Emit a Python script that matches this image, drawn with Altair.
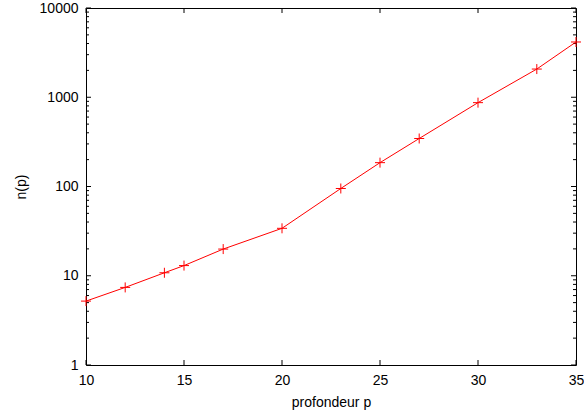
import altair as alt
import pandas as pd

# data
p_vals = [10, 12, 14, 15, 17, 20, 23, 25, 27, 30, 33, 35]
n_vals = [5.2, 7.4, 10.8, 13.0, 19.9, 34, 95, 185, 345, 870, 2070, 4160]

x_ticks = [10, 15, 20, 25, 30, 35]
y_major = [1, 10, 100, 1000, 10000]
y_minor = [m * d for d in [1, 10, 100, 1000] for m in range(2, 10)]

W, H = 490, 357
FONT = "Liberation Sans"

df = pd.DataFrame({"p": p_vals, "n": n_vals})
xt = pd.DataFrame({"p": x_ticks})
ymaj = pd.DataFrame({"n": y_major})
ymin = pd.DataFrame({"n": y_minor})

xscale = alt.Scale(domain=[10, 35], nice=False, zero=False)
yscale = alt.Scale(type="log", domain=[1, 10000], nice=False)

xaxis = alt.Axis(values=x_ticks, title="profondeur p", ticks=False, domain=False, grid=False,
                 labelPadding=8, labelFontSize=14, labelFont=FONT, labelColor="black",
                 labelFlush=False, labelOverlap=False, labelBound=False,
                 titleFont=FONT, titleFontSize=14, titleFontWeight="normal", titleColor="black",
                 titleY=41, titleBaseline="alphabetic")
yaxis = alt.Axis(values=y_major, format="d", title="n(p)", ticks=False, domain=False, grid=False,
                 labelPadding=8, labelFontSize=14, labelFont=FONT, labelColor="black",
                 labelFlush=False, labelOverlap=False, labelBound=False,
                 titleFont=FONT, titleFontSize=14, titleFontWeight="normal", titleColor="black",
                 titleAngle=-90, titleX=-65, titleY=H / 2, titleAlign="center", titleBaseline="middle")

base = alt.Chart(df)
line = base.mark_line(color="#ff0000", strokeWidth=1).encode(
    x=alt.X("p:Q", scale=xscale, axis=xaxis),
    y=alt.Y("n:Q", scale=yscale, axis=yaxis),
)
pts = base.mark_point(shape="M-1,0H1M0,-1V1", size=100, filled=False, color="#ff0000",
                      strokeWidth=1, opacity=1).encode(x="p:Q", y="n:Q")

tick_style = dict(color="black", strokeWidth=1)
bx = alt.Chart(xt).mark_rule(**tick_style).encode(x="p:Q", y=alt.value(H), y2=alt.value(H - 5))
tx = alt.Chart(xt).mark_rule(**tick_style).encode(x="p:Q", y=alt.value(0), y2=alt.value(5))
ly = alt.Chart(ymaj).mark_rule(**tick_style).encode(y="n:Q", x=alt.value(0), x2=alt.value(5))
ry = alt.Chart(ymaj).mark_rule(**tick_style).encode(y="n:Q", x=alt.value(W), x2=alt.value(W - 5))
lym = alt.Chart(ymin).mark_rule(**tick_style).encode(y="n:Q", x=alt.value(0), x2=alt.value(3))
rym = alt.Chart(ymin).mark_rule(**tick_style).encode(y="n:Q", x=alt.value(W), x2=alt.value(W - 3))

chart = alt.layer(bx, tx, ly, ry, lym, rym, line, pts).properties(
    width=W, height=H,
    autosize="none",
    padding={"left": 86, "top": 8, "right": 8, "bottom": 49},
    background="white",
).configure_view(stroke="black", strokeWidth=1)

chart.save("out.html", embed_options={"renderer": "svg", "actions": False})
